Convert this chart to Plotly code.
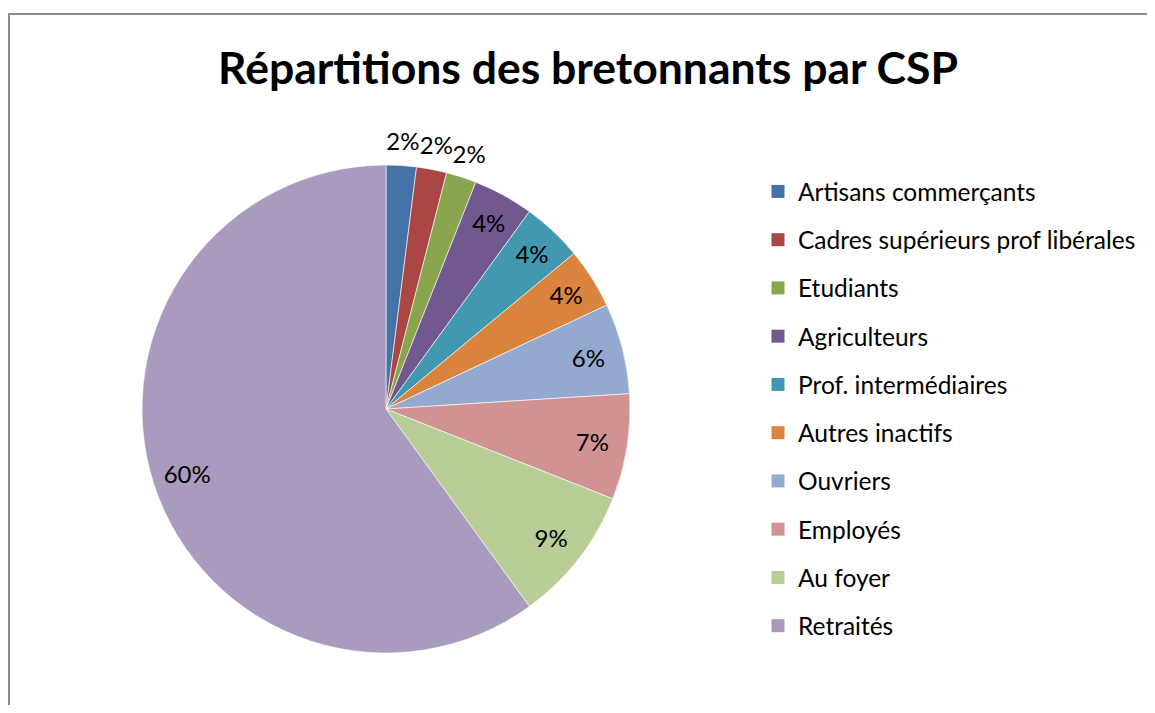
import plotly.graph_objects as go

categories = ["Artisans commerçants", "Cadres supérieurs prof libérales", "Etudiants",
              "Agriculteurs", "Prof. intermédiaires", "Autres inactifs", "Ouvriers",
              "Employés", "Au foyer", "Retraités"]
values = [2, 2, 2, 4, 4, 4, 6, 7, 9, 60]
colors = ["#4572A7", "#AA4643", "#89A54E", "#71588F", "#4198AF",
          "#DB843D", "#93A9CF", "#D19392", "#B9CD96", "#A99BBD"]
outside_label = [True, True, True, False, False, False, False, False, False, False]

OFF = 8  # browser body margin
W, H = 1155 - OFF, 713 - 2 * OFF
FONT = "Lato"
PCT = "%{percent:.0%}"
CLEAR = ["rgba(0,0,0,0)"] * len(values)

cx, cy, R = 386 - OFF, 409 - OFF, 244
IN_R0, IN_R1 = 178, 240     # ring that carries the inside labels
OUT_R0, OUT_R1 = 244, 286   # ring that carries the labels of the thin slices


def dom(r):
    return dict(x=[(cx - r) / W, (cx + r) / W], y=[1 - (cy + r) / H, 1 - (cy - r) / H])


common = dict(labels=categories, values=values, sort=False, direction="clockwise",
              rotation=0, showlegend=False)

fig = go.Figure()
fig.add_trace(go.Pie(
    **common,
    marker=dict(colors=colors, line=dict(color="white", width=0.6)),
    textinfo="none", domain=dom(R), hoverinfo="label+percent",
))
fig.add_trace(go.Pie(
    **common, hole=IN_R0 / IN_R1,
    marker=dict(colors=CLEAR, line=dict(width=0)),
    texttemplate=["" if o else PCT for o in outside_label], textposition="inside",
    insidetextorientation="horizontal",
    textfont=dict(family=FONT, size=24, color="black"),
    domain=dom(IN_R1), hoverinfo="skip",
))
fig.add_trace(go.Pie(
    **common, hole=OUT_R0 / OUT_R1,
    marker=dict(colors=CLEAR, line=dict(width=0)),
    texttemplate=[PCT if o else "" for o in outside_label], textposition="inside",
    insidetextorientation="horizontal",
    textfont=dict(family=FONT, size=24, color="black"),
    domain=dom(OUT_R1), hoverinfo="skip",
))

# legend entries (one per category, same colours)
for lab, col in zip(categories, colors):
    fig.add_trace(go.Scatter(
        x=[None], y=[None], mode="markers", name=lab, legendgroup=lab,
        marker=dict(symbol="square", size=13, color=col), showlegend=True,
    ))

top = 1 - (14 - OFF) / H
left = 1 / W
fig.update_layout(
    width=W, height=H,
    margin=dict(l=0, r=0, t=0, b=0),
    paper_bgcolor="white", plot_bgcolor="white",
    xaxis=dict(visible=False), yaxis=dict(visible=False),
    title=dict(text="Répartitions des bretonnants par CSP", x=(588 - OFF) / W, xanchor="center",
               y=1 - (68 - OFF) / H, yanchor="middle",
               font=dict(family=FONT, size=44.5, color="black", weight="bold")),
    legend=dict(x=(758 - OFF) / W, xanchor="left", y=1 - (169 - OFF) / H, yanchor="top",
                font=dict(family=FONT, size=24.5, color="black"),
                tracegroupgap=13.4, bgcolor="rgba(0,0,0,0)"),
    uniformtext=dict(minsize=24, mode="show"),
    shapes=[dict(type="path", xref="paper", yref="paper",
                 path=f"M {left},-0.1 L {left},{top} L 1.2,{top}",
                 line=dict(color="#8c8c8c", width=2), layer="below")],
)

fig.write_html("out.html")
